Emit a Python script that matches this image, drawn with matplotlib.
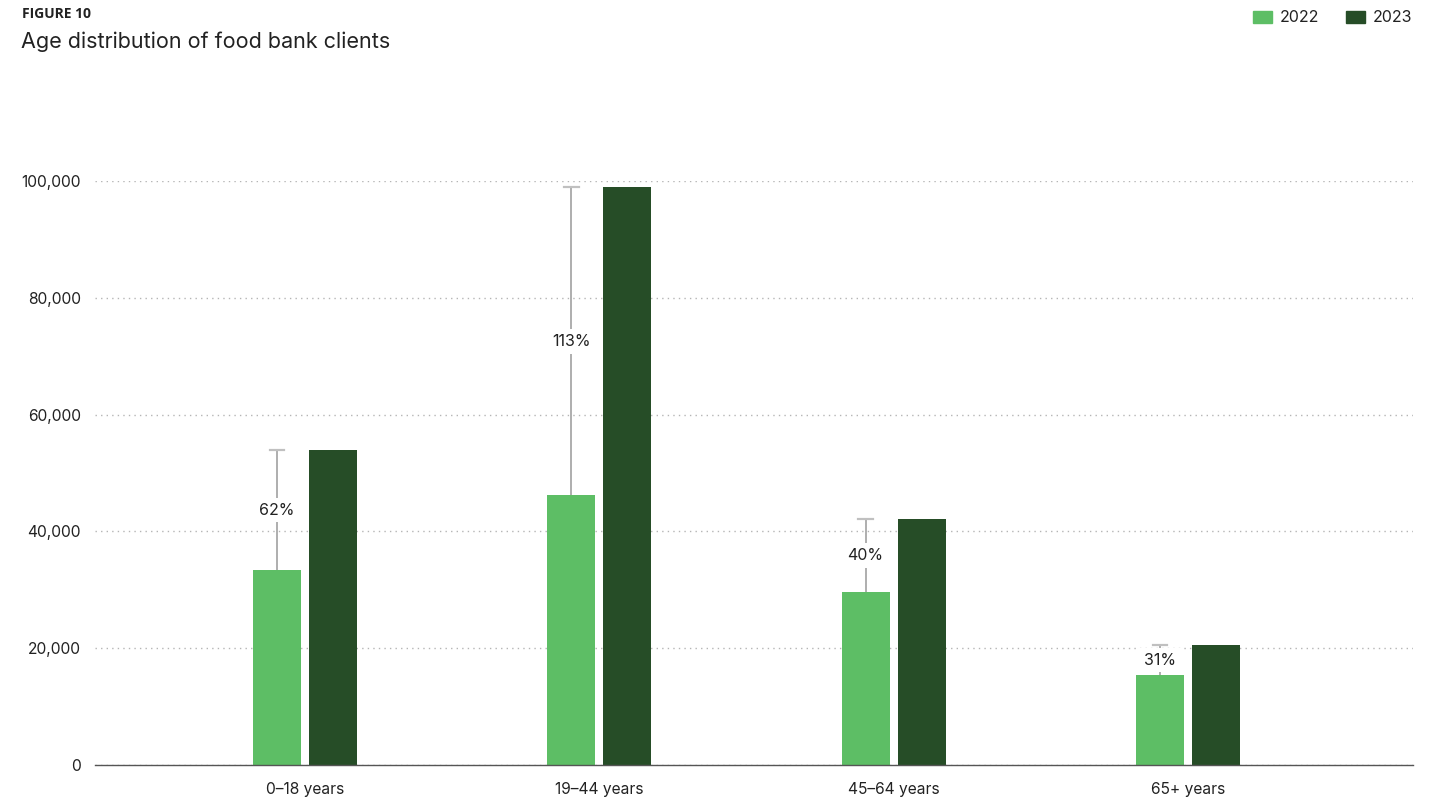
import matplotlib.pyplot as plt
import numpy as np
from matplotlib.ticker import FuncFormatter
from matplotlib.patches import Rectangle

plt.rcParams["font.family"] = ["Inter", "DejaVu Sans"]

categories = ["0\u201318 years", "19\u201344 years", "45\u201364 years", "65+ years"]
clients_2022 = [33400, 46200, 29600, 15400]
clients_2023 = [53900, 98900, 42100, 20500]
change_labels = ["62%", "113%", "40%", "31%"]
series_names = ["2022", "2023"]

light_green = "#5dbe65"
dark_green = "#264d27"
text_color = "#222222"

fig = plt.figure(figsize=(14.33, 7.98), dpi=100)
ax = fig.add_axes([95 / 1433, 33 / 798, 1318 / 1433, 584 / 798])

x = np.arange(len(categories))
width = 0.163
offset = 0.0952

ax.bar(x - offset, clients_2022, width, color=light_green, zorder=3)
ax.bar(x + offset, clients_2023, width, color=dark_green, zorder=3)

# change indicator: line from 2022 top to 2023 top with cap and % label
for i in range(len(categories)):
    xi = x[i] - offset
    ax.plot([xi, xi], [clients_2022[i], clients_2023[i]], color="#a8a8a8",
            linewidth=1.3, zorder=2, clip_on=False)
    ax.plot([xi - 0.025, xi + 0.025], [clients_2023[i], clients_2023[i]],
            color="#c0c0c0", linewidth=1.6, zorder=2, clip_on=False)
    mid = (clients_2022[i] + clients_2023[i]) / 2
    ax.text(xi, mid, change_labels[i], ha="center", va="center", fontsize=11.5,
            color=text_color, zorder=4,
            bbox=dict(boxstyle="square,pad=0.3", fc="white", ec="none"))

ax.set_xlim(-0.714, 3.765)
ax.set_ylim(0, 100000)
ax.set_yticks([0, 20000, 40000, 60000, 80000, 100000])
ax.yaxis.set_major_formatter(FuncFormatter(lambda v, p: f"{int(v):,}"))
ax.set_xticks(x)
ax.set_xticklabels(categories)
ax.tick_params(axis="both", length=0, labelsize=11.2, colors=text_color)
ax.tick_params(axis="y", pad=10)
ax.tick_params(axis="x", pad=12)

ax.grid(axis="y", linestyle=(0, (1, 3)), color="#b5b5b5", linewidth=1, zorder=0)
for s in ["top", "right", "left"]:
    ax.spines[s].set_visible(False)
ax.spines["bottom"].set_color("#555555")
ax.spines["bottom"].set_linewidth(1)
ax.spines["bottom"].set_zorder(5)

fig.text(22 / 1433, 1 - 14 / 798, "FIGURE 10", fontsize=10, fontweight="bold",
         color=text_color, va="center", ha="left", family=["Open Sans", "DejaVu Sans"])
fig.text(21 / 1433, 1 - 42 / 798, "Age distribution of food bank clients",
         fontsize=15.5, color=text_color, va="center", ha="left")

# legend at top right
legend_items = [(1253, series_names[0], light_green), (1346, series_names[1], dark_green)]
for px, label, col in legend_items:
    fig.patches.append(Rectangle((px / 1433, 1 - 23 / 798), 19 / 1433, 12 / 798,
                                 transform=fig.transFigure, color=col))
    fig.text((px + 27) / 1433, 1 - 17 / 798, label, fontsize=11.5,
             color=text_color, va="center", ha="left")

fig.savefig("out.png", dpi=100)
